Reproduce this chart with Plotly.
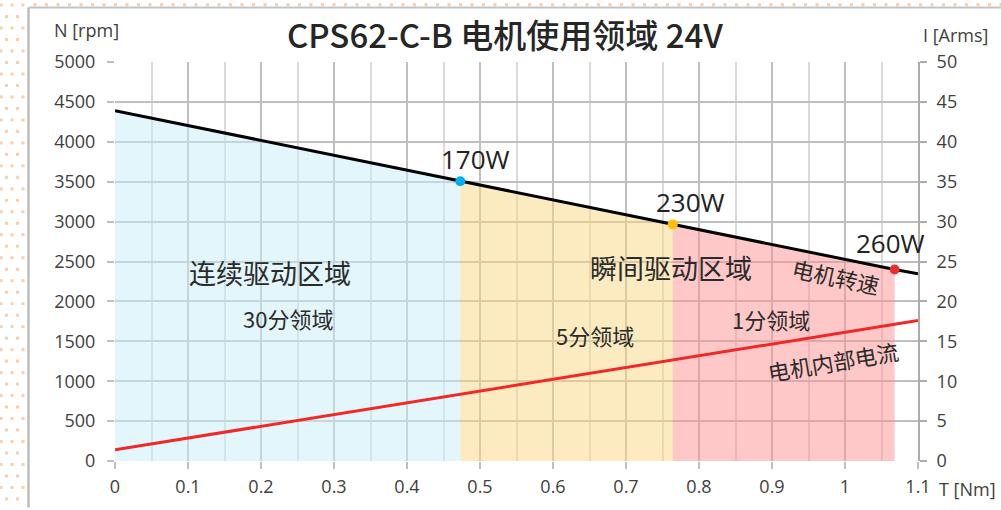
import plotly.graph_objects as go

# ---------------- data ----------------
torque_knots = [0.0, 0.473, 0.764, 1.068, 1.1]          # T [Nm]
speed_knots = [4390, 3505, 2965, 2400, 2345]            # N [rpm]
current_torque = [0.0, 1.1]                              # T [Nm]
current_arms = [1.4, 17.6]                               # I [Arms]

power_labels = ["170W", "230W", "260W"]
power_torque = [0.473, 0.764, 1.068]
power_speed = [3505, 2965, 2400]
power_colors = ["#00B0F0", "#FFC000", "#E8312F"]

zone_fills = ["rgba(200,237,248,0.5)", "rgba(250,216,132,0.5)", "rgba(255,146,146,0.5)"]

x_tickvals = [0, 0.1, 0.2, 0.3, 0.4, 0.5, 0.6, 0.7, 0.8, 0.9, 1.0, 1.1]
x_ticktext = ["0", "0.1", "0.2", "0.3", "0.4", "0.5", "0.6", "0.7", "0.8", "0.9", "1", "1.1"]

title_text = "CPS62-C-B 电机使用领域 24V"

# ---------------- layout constants ----------------
W, H = 1001, 510
ML, MR, MT, MB = 115, 83, 62, 45
PW, PH = W - ML - MR, H - MT - MB

def px2paper(px, py):
    return (px - ML) / PW, (H - MB - py) / PH

fig = go.Figure()

# zone fills
for i in range(3):
    t0, t1 = torque_knots[i], torque_knots[i + 1]
    n0, n1 = speed_knots[i], speed_knots[i + 1]
    fig.add_trace(go.Scatter(
        x=[t0, t0, t1, t1, t0], y=[0, n0, n1, 0, 0],
        fill="toself", fillcolor=zone_fills[i], mode="none",
        hoverinfo="skip", showlegend=False))

# speed line
fig.add_trace(go.Scatter(x=torque_knots, y=speed_knots, mode="lines",
                         line=dict(color="#000000", width=3), showlegend=False))

# current line (right axis)
fig.add_trace(go.Scatter(x=current_torque, y=current_arms, mode="lines", yaxis="y2",
                         line=dict(color="#F02828", width=3), showlegend=False))

# power points
fig.add_trace(go.Scatter(x=power_torque, y=power_speed, mode="markers",
                         marker=dict(color=power_colors, size=10, line=dict(width=0)),
                         showlegend=False))

FONT_TXT = "Noto Sans CJK SC"
FONT_NUM = "Open Sans"

ann = []
# title
tx, ty = px2paper(505, 34)
ann.append(dict(text=title_text, x=tx, y=ty, xref="paper", yref="paper", showarrow=False,
                font=dict(family=FONT_TXT, size=33, color="#262626", weight=500),
                xanchor="center", yanchor="middle"))
# axis titles
for txt, (px, py) in [("N [rpm]", (86, 30)), ("I [Arms]", (955, 35)), ("T [Nm]", (967, 493))]:
    ax_, ay_ = px2paper(px, py)
    ann.append(dict(text=txt, x=ax_, y=ay_, xref="paper", yref="paper", showarrow=False,
                    font=dict(family=FONT_NUM, size=18, color="#404040"),
                    xanchor="center", yanchor="middle"))

# power labels
for lbl, (px, py) in zip(power_labels, [(475, 160), (690, 203), (890, 245)]):
    ax_, ay_ = px2paper(px, py)
    ann.append(dict(text=lbl, x=ax_, y=ay_, xref="paper", yref="paper", showarrow=False,
                    font=dict(family=FONT_NUM, size=26, color="#222222"),
                    xanchor="center", yanchor="middle"))

# region / line labels
labels = [
    ("连续驱动区域", (270, 275), 27, 0),
    ("30分领域", (288, 321), 22, 0),
    ("瞬间驱动区域", (671, 270), 27, 0),
    ("5分领域", (595, 338), 22, 0),
    ("1分领域", (771, 322), 22, 0),
    ("电机转速", (836, 278), 22, 12),
    ("电机内部电流", (833, 364), 22, -9.5),
]
for txt, (px, py), sz, ang in labels:
    ax_, ay_ = px2paper(px, py)
    ann.append(dict(text=txt, x=ax_, y=ay_, xref="paper", yref="paper", showarrow=False,
                    font=dict(family=FONT_TXT, size=sz, color="#2B2B2B"), textangle=ang,
                    xanchor="center", yanchor="middle"))

# decorative border + dotted background
shapes = []
bx, _ = px2paper(28.5, 0)
_, by_top = px2paper(0, 7)
_, by_bot = px2paper(0, 512)
bx_right, _ = px2paper(1003, 0)
shapes.append(dict(type="line", xref="paper", yref="paper", x0=bx, x1=bx, y0=by_top, y1=by_bot,
                   line=dict(color="#BDBDBD", width=2.5)))
shapes.append(dict(type="line", xref="paper", yref="paper", x0=bx, x1=bx_right, y0=by_top, y1=by_top,
                   line=dict(color="#C4C4C4", width=2)))

dot_pts = []
row = 0
py = 4.5
while py < 512:
    cols = [1, 12, 23] if row % 2 == 0 else [6.5, 17.5]
    for cx in cols:
        dot_pts.append((cx, py))
    row += 1
    py += 11.6
cx = 35
while cx < 1002:
    dot_pts.append((cx, 4))
    cx += 11.5
for (cx, cy) in dot_pts:
    x0, y0 = px2paper(cx - 1.5, cy + 1.5)
    x1, y1 = px2paper(cx + 1.5, cy - 1.5)
    shapes.append(dict(type="rect", xref="paper", yref="paper", x0=x0, x1=x1, y0=y0, y1=y1,
                       fillcolor="#F8CFAE", line=dict(width=0), layer="below"))

fig.update_layout(
    width=W, height=H,
    margin=dict(l=ML, r=MR, t=MT, b=MB),
    paper_bgcolor="white", plot_bgcolor="white",
    annotations=ann, shapes=shapes,
    showlegend=False,
    xaxis=dict(range=[0, 1.1], tickvals=x_tickvals, ticktext=x_ticktext,
               showgrid=True, gridcolor="#BFBFBF", gridwidth=1.5,
               minor=dict(dtick=0.05, tick0=0, showgrid=True, gridcolor="#DADADA", gridwidth=1.5,
                          ticks=""),
               ticks="outside", ticklen=7, tickcolor="#BFBFBF", tickwidth=1.5,
               zeroline=False, showline=False, ticklabelstandoff=2,
               tickfont=dict(family=FONT_NUM, size=18, color="#404040")),
    yaxis=dict(range=[0, 5000], dtick=500, tick0=0, showgrid=True, gridcolor="#BFBFBF", gridwidth=1.5,
               ticks="outside", ticklen=7, tickcolor="#BFBFBF", tickwidth=1.5,
               zeroline=False, showline=False, ticklabelstandoff=8,
               tickfont=dict(family=FONT_NUM, size=18, color="#404040")),
    yaxis2=dict(range=[0, 50], dtick=5, tick0=0, overlaying="y", side="right", showgrid=False,
                ticks="outside", ticklen=7, tickcolor="#ABABAB", tickwidth=1.5,
                showline=True, linecolor="#ABABAB", linewidth=2, zeroline=False,
                ticklabelstandoff=6,
                tickfont=dict(family=FONT_NUM, size=18, color="#404040")),
)

fig.write_html("out.html", config={"displayModeBar": False},
               post_script="document.body.style.margin='0';document.body.style.padding='0';")
